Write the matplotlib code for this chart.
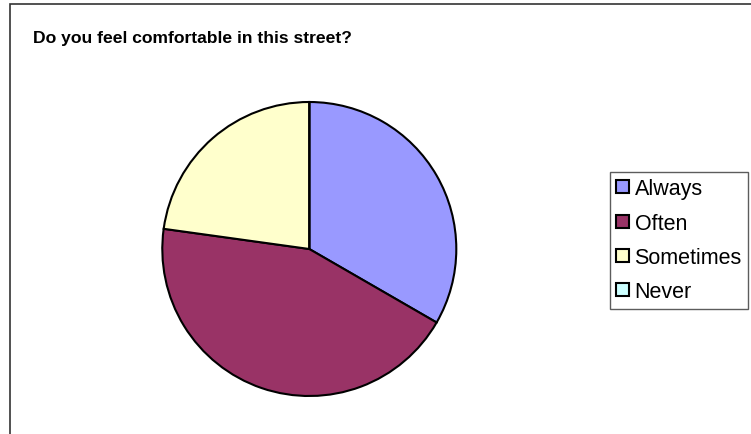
import matplotlib
matplotlib.use("Agg")
import matplotlib.pyplot as plt
from matplotlib.patches import Rectangle, Patch

plt.rcParams['font.family'] = ['Liberation Sans', 'DejaVu Sans']

title = "Do you feel comfortable in this street?"
categories = ["Always", "Often", "Sometimes", "Never"]
counts = [19, 25, 13, 0]
colors = ["#9999FF", "#993366", "#FFFFCC", "#CCFFFF"]

W, H = 751, 435
fig = plt.figure(figsize=(W / 100, H / 100), dpi=100)
fig.patch.set_facecolor("white")

# outer chart border (only top and left visible in the reference)
fig.patches.append(Rectangle((10 / W, -0.2), 1.5, 1.2 - 4.7 / H,
                             transform=fig.transFigure, fill=False,
                             edgecolor="#333333", linewidth=1.2))

cx, cy, r = 309.3, 250.0, 147.0
ax = fig.add_axes([(cx - r) / W, (H - cy - r) / H, 2 * r / W, 2 * r / H])
ax.pie(counts, colors=colors, startangle=90, counterclock=False,
       radius=1.0,
       wedgeprops=dict(edgecolor="black", linewidth=1.5))
ax.set_xlim(-1, 1)
ax.set_ylim(-1, 1)
ax.set_aspect("equal")
ax.axis("off")

fig.text(33 / W, 1 - 43 / H, title, fontsize=12.6, fontweight="bold",
         ha="left", va="baseline")

handles = [Patch(facecolor=c, edgecolor="black", linewidth=1.5) for c in colors]
leg = fig.legend(handles, categories, loc="upper left",
                 bbox_to_anchor=(610 / W, 1 - 173 / H),
                 bbox_transform=fig.transFigure,
                 fontsize=15.5, frameon=True, fancybox=False,
                 edgecolor="#333333", borderaxespad=0, borderpad=0.3,
                 handlelength=0.56, handleheight=0.56, handletextpad=0.28,
                 labelspacing=0.62)
leg.get_frame().set_linewidth(1.0)

fig.savefig("out.png", dpi=100, facecolor="white")
